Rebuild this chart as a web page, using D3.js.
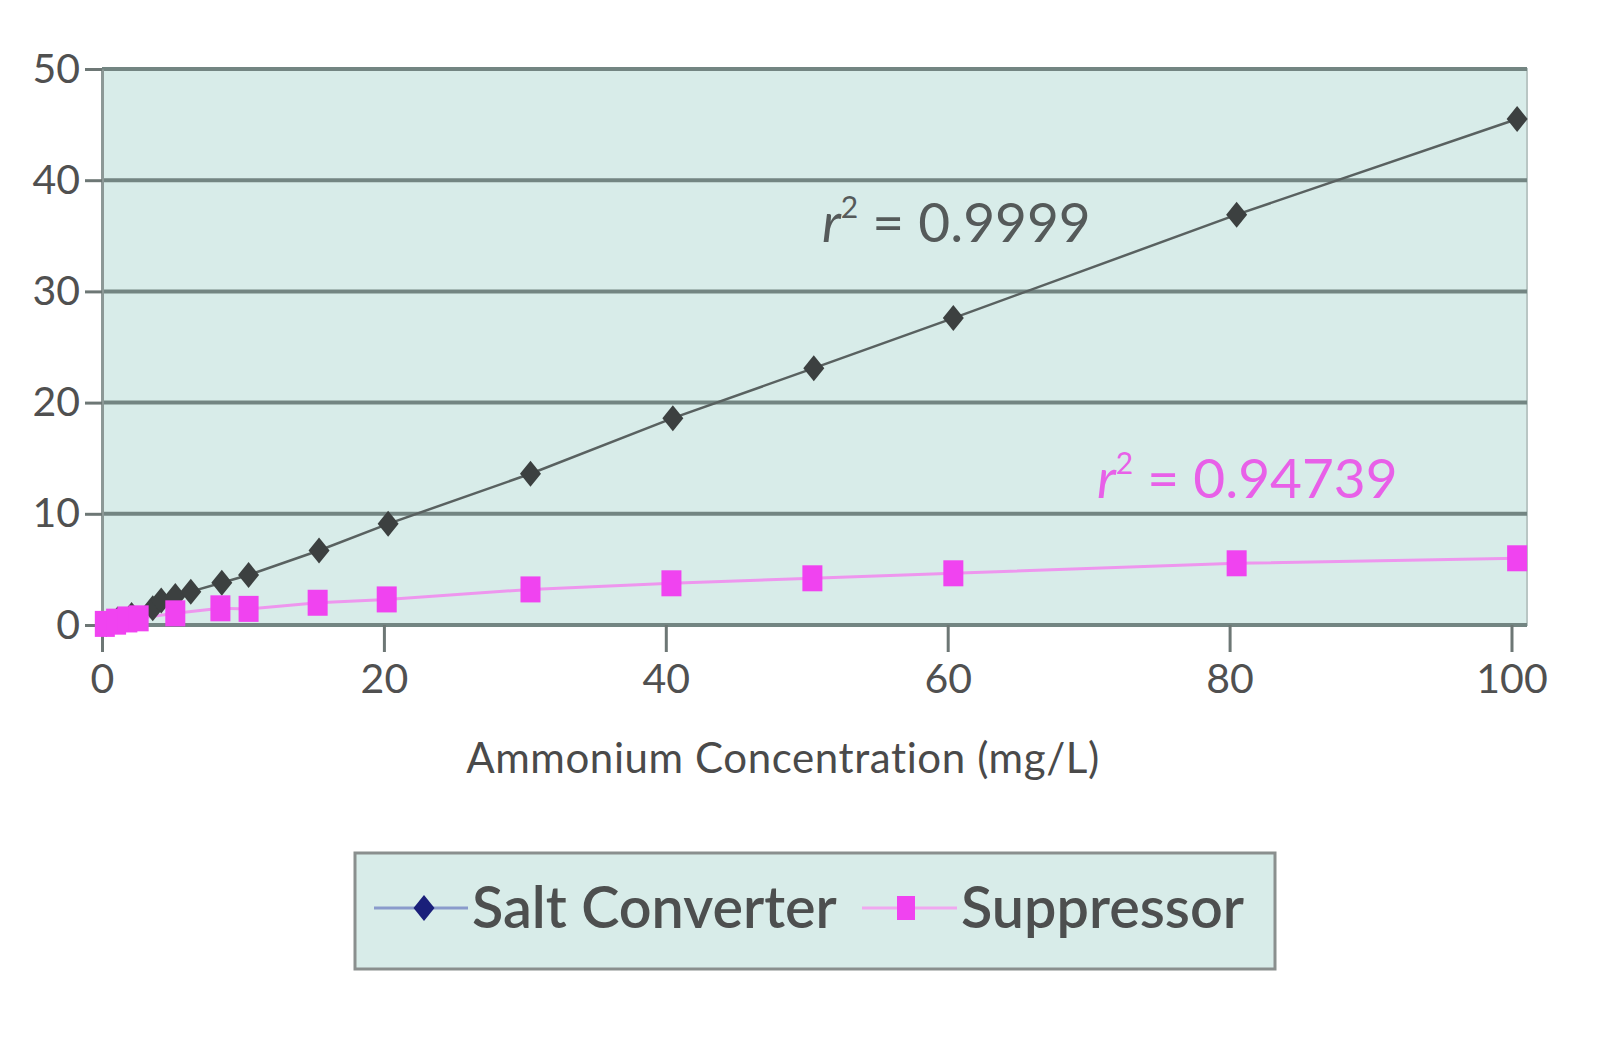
<!DOCTYPE html>
<html>
<head>
<meta charset="utf-8">
<script src="https://cdn.jsdelivr.net/npm/d3@7.9.0/dist/d3.min.js"></script>
<style>
  body { margin: 0; background: #fff; }
  svg text { font-family: Lato, "Open Sans", sans-serif; }
</style>
</head>
<body>
<svg id="chart" width="1600" height="1060"></svg>
<script>
// Salt Converter series
const saltX = [0.3, 1.1, 2.1, 3.6, 4.2, 5.2, 6.3, 8.5, 10.4, 15.4, 20.3, 30.4, 40.5, 50.5, 60.4, 80.5, 100.4];
const saltY = [0.1, 0.5, 0.9, 1.5, 2.2, 2.6, 3.0, 3.8, 4.5, 6.7, 9.1, 13.6, 18.6, 23.1, 27.6, 36.9, 45.5];

// Suppressor series
const suppX = [0.2, 1.0, 1.8, 2.6, 5.2, 8.4, 10.4, 15.3, 20.2, 30.4, 40.4, 50.4, 60.4, 80.5, 100.4];
const suppY = [0.1, 0.3, 0.5, 0.6, 1.05, 1.5, 1.45, 2.0, 2.3, 3.2, 3.75, 4.2, 4.65, 5.55, 6.0];

const xTicks = [0, 20, 40, 60, 80, 100];
const yTicks = [0, 10, 20, 30, 40, 50];
const seriesNames = ['Salt Converter', 'Suppressor'];
const r2Labels = ['0.9999', '0.94739'];

const svg = d3.select('#chart');

const x = d3.scaleLinear().domain([0, 101.1]).range([102, 1527]);
const y = d3.scaleLinear().domain([0, 50]).range([625, 69]);

// plot background
svg.append('rect')
    .attr('x', x(0)).attr('y', y(50))
    .attr('width', x(101.1) - x(0)).attr('height', y(0) - y(50))
    .attr('fill', '#d8ece9')
    .attr('stroke', '#b9c6c4')
    .attr('stroke-width', 2);

// horizontal gridlines
svg.append('g')
    .selectAll('line')
    .data(yTicks)
    .join('line')
    .attr('x1', x(0)).attr('x2', x(101.1))
    .attr('y1', d => y(d)).attr('y2', d => y(d))
    .attr('stroke', '#738582')
    .attr('stroke-width', 4);

// y axis
const yAxis = svg.append('g')
    .attr('transform', `translate(${x(0)},0)`)
    .call(d3.axisLeft(y).tickValues(yTicks).tickSize(17).tickPadding(5).tickSizeOuter(0));
yAxis.select('.domain').attr('stroke', '#8c9896').attr('stroke-width', 3);
yAxis.selectAll('.tick line').attr('stroke', '#6d7775').attr('stroke-width', 3);
yAxis.selectAll('.tick text')
    .attr('font-size', 41).attr('fill', '#505050');

// x axis
const xAxis = svg.append('g')
    .attr('transform', `translate(0,${y(0)})`)
    .call(d3.axisBottom(x).tickValues(xTicks).tickSize(27).tickPadding(12).tickSizeOuter(0));
xAxis.select('.domain').remove();
xAxis.selectAll('.tick line').attr('stroke', '#6d7775').attr('stroke-width', 3);
xAxis.selectAll('.tick text')
    .attr('font-size', 41).attr('fill', '#505050');

// axis title
svg.append('text')
    .attr('x', 783).attr('y', 773)
    .attr('text-anchor', 'middle')
    .attr('font-size', 42)
    .attr('letter-spacing', 0.6)
    .attr('fill', '#4a4a4a')
    .text('Ammonium  Concentration (mg/L)');

const line = d3.line().x(d => x(d[0])).y(d => y(d[1]));
const saltData = saltX.map((v, i) => [v, saltY[i]]);
const suppData = suppX.map((v, i) => [v, suppY[i]]);

// Suppressor line
svg.append('path')
    .datum(suppData)
    .attr('d', line)
    .attr('fill', 'none')
    .attr('stroke', '#ee96ee')
    .attr('stroke-width', 3);

// Salt line
svg.append('path')
    .datum(saltData)
    .attr('d', line)
    .attr('fill', 'none')
    .attr('stroke', '#596160')
    .attr('stroke-width', 2.5);

const diamond = 'M0,-13L10.5,0L0,13L-10.5,0Z';

svg.append('g')
    .selectAll('path')
    .data(saltData)
    .join('path')
    .attr('transform', d => `translate(${x(d[0])},${y(d[1])})`)
    .attr('d', diamond)
    .attr('fill', '#3c4040');

svg.append('g')
    .selectAll('rect')
    .data(suppData)
    .join('rect')
    .attr('x', d => x(d[0]) - 10).attr('y', d => y(d[1]) - 13)
    .attr('width', 20).attr('height', 26)
    .attr('fill', '#f043f0');

// r² annotations
const r2 = [
    { x: 822, y: 242, color: '#555a5a', text: r2Labels[0] },
    { x: 1097, y: 498, color: '#e860e8', text: r2Labels[1] }
];
r2.forEach(a => {
    const t = svg.append('text')
        .attr('x', a.x).attr('y', a.y)
        .attr('font-size', 55)
        .attr('fill', a.color);
    t.append('tspan').attr('font-style', 'italic').text('r');
    t.append('tspan').attr('font-size', 30).attr('dy', -24).text('2');
    t.append('tspan').attr('dy', 24).text(' = ' + a.text);
});

// legend
const lg = svg.append('g');
lg.append('rect')
    .attr('x', 355).attr('y', 853)
    .attr('width', 920).attr('height', 116)
    .attr('fill', '#d8ece9')
    .attr('stroke', '#8a8f8e')
    .attr('stroke-width', 3);

const legendItems = [
    { x0: 374, mx: 424, tx: 472, stroke: '#8a9bcc', marker: 'diamond', mfill: '#1a1f7a' },
    { x0: 862, mx: 906, tx: 961, stroke: '#f0a8f0', marker: 'square', mfill: '#f043f0' }
];
legendItems.forEach((it, i) => {
    lg.append('line')
        .attr('x1', it.x0).attr('x2', it.tx - 4)
        .attr('y1', 908).attr('y2', 908)
        .attr('stroke', it.stroke).attr('stroke-width', 3);
    if (it.marker === 'diamond') {
        lg.append('path')
            .attr('transform', `translate(${it.mx},908)`)
            .attr('d', diamond)
            .attr('fill', it.mfill);
    } else {
        lg.append('rect')
            .attr('x', it.mx - 9).attr('y', 896)
            .attr('width', 18).attr('height', 24)
            .attr('fill', it.mfill);
    }
    lg.append('text')
        .attr('x', it.tx).attr('y', 928)
        .attr('font-size', 57.5)
        .attr('font-weight', 600)
        .attr('fill', '#4d4f4f')
        .text(seriesNames[i]);
});
</script>
</body>
</html>
